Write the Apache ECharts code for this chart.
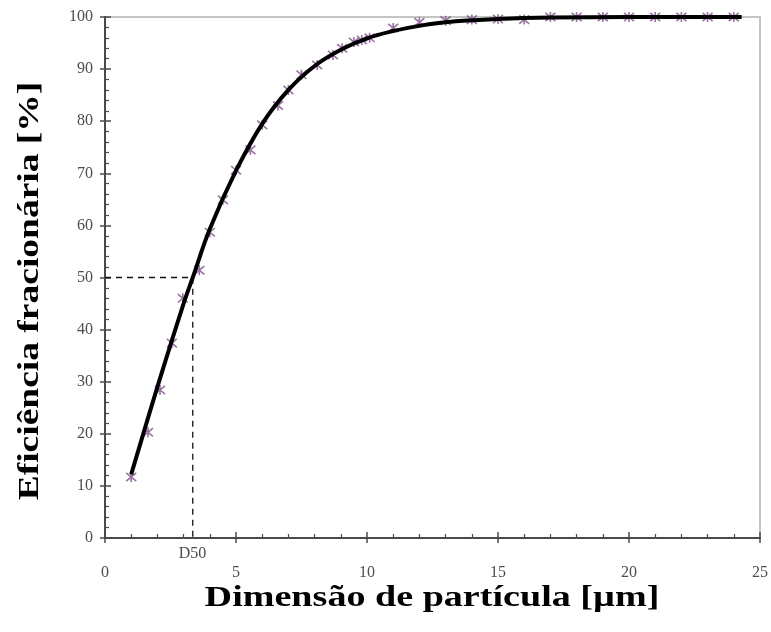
<!DOCTYPE html>
<html>
<head>
<meta charset="utf-8">
<script src="https://cdn.jsdelivr.net/npm/echarts@6/dist/echarts.min.js"></script>
<style>
html,body{margin:0;padding:0;background:#fff;}
#chart{width:771px;height:632px;}
</style>
</head>
<body>
<div id="chart"></div>
<script>
// Measured fractional efficiency vs particle size
const sizeMeasured = [1.0, 1.64, 2.1, 2.55, 2.97, 3.6, 4.0, 4.5, 5.0, 5.55, 6.0, 6.6, 7.0, 7.5, 8.1, 8.7, 9.05, 9.5, 9.8, 10.1, 11, 12, 13, 14, 15, 16, 17, 18, 19, 20, 21, 22, 23, 24];
const effMeasured  = [11.7, 20.3, 28.4, 37.4, 46.0, 51.4, 58.7, 64.9, 70.6, 74.5, 79.3, 83.0, 86.0, 88.9, 90.8, 92.7, 94.0, 95.2, 95.6, 96.0, 97.9, 99.0, 99.3, 99.5, 99.6, 99.5, 100, 100, 100, 100, 100, 100, 100, 100];

// Fitted efficiency curve
const sizeFit = [1.0, 2.0, 3.0, 3.35, 4.0, 5.0, 6.0, 7.0, 8.0, 9.0, 10.0, 11.0, 12.0, 13.0, 15.0, 17.0, 20.0, 24.3];
const effFit  = [12.2, 29.0, 45.0, 50.0, 59.3, 70.5, 79.5, 86.0, 90.6, 93.7, 95.9, 97.3, 98.3, 99.0, 99.6, 99.9, 100, 100];

// Cut size
const d50 = 3.35;
const d50Label = 'D50';

const xTicks = [0, 5, 10, 15, 20, 25];
const yTicks = [0, 10, 20, 30, 40, 50, 60, 70, 80, 90, 100];

const xTitle = 'Dimensão de partícula [µm]';
const yTitle = 'Eficiência fracionária [%]';

const serif = '"Liberation Serif", "DejaVu Serif", serif';
const axisColor = '#4a4a4a';
const labelColor = '#4d4d4d';

const chart = echarts.init(document.getElementById('chart'));

// asterisk marker drawn as stroked path
const asterisk = 'path://M0,0L10,10M10,0L0,10M5,-1L5,11';

chart.setOption({
  animation: false,
  backgroundColor: '#fff',
  grid: {
    left: 105, right: 9, top: 17, bottom: 94,
    show: true, borderColor: '#c4c4c4', borderWidth: 2, backgroundColor: 'transparent'
  },
  // axis titles, set in a tall bold serif face
  graphic: [
    {
      type: 'text', x: 432, y: 598, scaleX: 1.27, scaleY: 1.0,
      style: { text: xTitle, font: 'bold 30px ' + serif, fill: '#000', align: 'center', verticalAlign: 'middle' }
    },
    {
      type: 'text', x: 30, y: 291, rotation: Math.PI / 2, scaleX: 1.25, scaleY: 1.0,
      style: { text: yTitle, font: 'bold 30px ' + serif, fill: '#000', align: 'center', verticalAlign: 'middle' }
    }
  ],
  xAxis: [{
    type: 'value', min: xTicks[0], max: xTicks[xTicks.length - 1], interval: 5,
    axisLine: { lineStyle: { color: axisColor, width: 2 } },
    axisTick: { inside: true, length: 6, lineStyle: { color: axisColor, width: 1.5 } },
    minorTick: { show: true, splitNumber: 5, length: 4, lineStyle: { color: axisColor, width: 1.2 } },
    axisLabel: { fontFamily: serif, fontSize: 16, color: labelColor, margin: 27 },
    splitLine: { show: false }
  }, {
    type: 'value', min: xTicks[0], max: xTicks[xTicks.length - 1], interval: 5, position: 'bottom',
    axisLine: { show: false },
    axisTick: { inside: false, length: 5, lineStyle: { color: axisColor, width: 1.5 } },
    axisLabel: { show: false }, splitLine: { show: false }
  }],
  yAxis: [{
    type: 'value', min: yTicks[0], max: yTicks[yTicks.length - 1], interval: 10,
    axisLine: { lineStyle: { color: axisColor, width: 2 } },
    axisTick: { inside: true, length: 6, lineStyle: { color: axisColor, width: 1.5 } },
    minorTick: { show: true, splitNumber: 5, length: 4, lineStyle: { color: axisColor, width: 1.2 } },
    axisLabel: { fontFamily: serif, fontSize: 16, color: labelColor, margin: 12 },
    splitLine: { show: false }
  }, {
    type: 'value', min: yTicks[0], max: yTicks[yTicks.length - 1], interval: 10, position: 'left',
    axisLine: { show: false },
    axisTick: { inside: false, length: 5, lineStyle: { color: axisColor, width: 1.5 } },
    axisLabel: { show: false }, splitLine: { show: false }
  }],
  series: [
    {
      name: 'D50', type: 'line',
      data: [[0, 50], [d50, 50], [d50, 0]],
      showSymbol: false, symbol: 'none',
      lineStyle: { color: '#111', width: 1.3, type: [6, 5] },
      label: { show: false },
      endLabel: {
        show: true, formatter: d50Label, fontFamily: serif, fontSize: 16, color: labelColor,
        distance: 0, offset: [-14, 16]
      },
      z: 2
    },
    {
      name: 'Medido', type: 'scatter',
      data: sizeMeasured.map((x, i) => [x, effMeasured[i]]),
      symbol: asterisk, symbolSize: 10,
      itemStyle: { color: 'none', borderColor: '#7e4f88', borderWidth: 1.6 },
      z: 3
    },
    {
      name: 'Ajuste', type: 'line',
      data: sizeFit.map((x, i) => [x, effFit[i]]),
      smooth: 0.4, showSymbol: false, symbol: 'none',
      lineStyle: { color: '#000', width: 4 },
      z: 4
    }
  ]
});
</script>
</body>
</html>
